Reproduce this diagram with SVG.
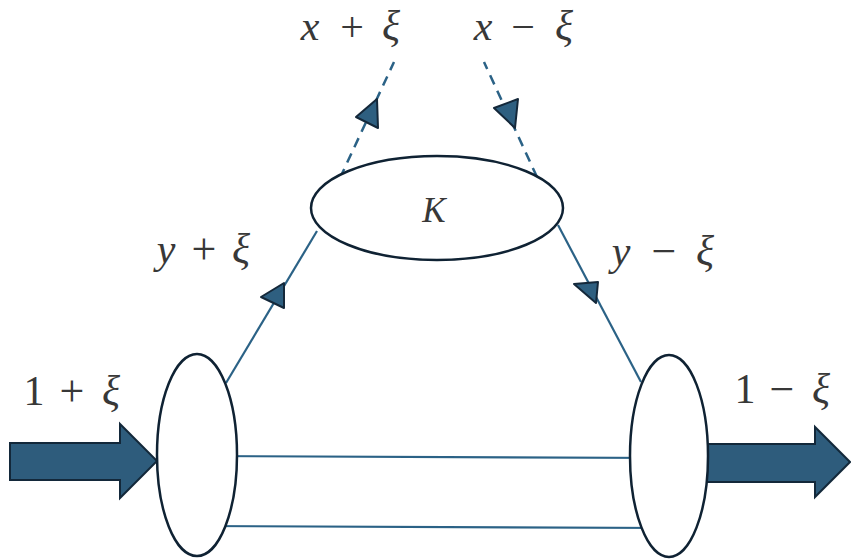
<svg xmlns="http://www.w3.org/2000/svg" width="851" height="559" viewBox="0 0 851 559">
<style>
.line{stroke:#2b6286;stroke-width:2.2;fill:none}
.dash{stroke:#2b6286;stroke-width:2.5;fill:none;stroke-dasharray:10 7}
.blob{fill:#ffffff;stroke:#0f2233;stroke-width:2.5}
.big{fill:#2e5c7c;stroke:#13283a;stroke-width:2;stroke-linejoin:miter}
.tri{fill:#2e5f80;stroke:#14283a;stroke-width:2;stroke-linejoin:round}
.lbl{font-family:"Liberation Serif",serif;font-size:42px;fill:#383838;text-anchor:middle}
.it{font-style:italic}
.op{font-size:44px}
.k{font-size:35px}
</style>
<g id="connectors">
<line class="line" x1="197" y1="456" x2="669" y2="458"/>
<line class="line" x1="197" y1="526" x2="669" y2="528"/>
<line class="line" x1="226" y1="383" x2="317" y2="231"/>
<line class="line" x1="558" y1="225" x2="641" y2="382"/>
<line class="dash" x1="340" y1="178" x2="394" y2="62"/>
<line class="dash" x1="537" y1="177" x2="484" y2="62"/>
<polygon class="tri" points="261,297 284,283 284,308"/>
<polygon class="tri" points="574,284 598,282 596,303"/>
<polygon class="tri" points="356,117 377,99 378,128"/>
<polygon class="tri" points="494,108 518,99 515,128"/>
<polygon class="big" points="10,443 120,443 120,424 157,461 120,498 120,480 10,480"/>
<polygon class="big" points="706,444 815,444 815,427 850,462 815,497 815,482 706,482"/>
</g>
<g id="kernel">
<ellipse class="blob" cx="437" cy="208" rx="126" ry="52"/>
<text class="lbl it k" x="434" y="222">K</text>
</g>
<g id="left-blob">
<ellipse class="blob" cx="197" cy="455" rx="40" ry="101"/>
</g>
<g id="right-blob">
<ellipse class="blob" cx="669" cy="456" rx="39" ry="101"/>
</g>
<g id="labels">
<text class="lbl it" x="310" y="40">x</text><text class="lbl op" x="352" y="41" style="font-size:42px">+</text><text class="lbl it" x="391" y="40">ξ</text>
<text class="lbl it" x="483" y="40">x</text><text class="lbl op" x="523" y="41" style="font-size:42px">−</text><text class="lbl it" x="564" y="40">ξ</text>
<text class="lbl it" x="166" y="263">y</text><text class="lbl op" x="204" y="264">+</text><text class="lbl it" x="241" y="263">ξ</text>
<text class="lbl it" x="621" y="265">y</text><text class="lbl op" x="664" y="266">−</text><text class="lbl it" x="705" y="265">ξ</text>
<text class="lbl" x="34" y="405">1</text><text class="lbl op" x="72" y="406">+</text><text class="lbl it" x="111" y="405">ξ</text>
<text class="lbl" x="745" y="403">1</text><text class="lbl op" x="782" y="404">−</text><text class="lbl it" x="821" y="403">ξ</text>
</g>
</svg>
